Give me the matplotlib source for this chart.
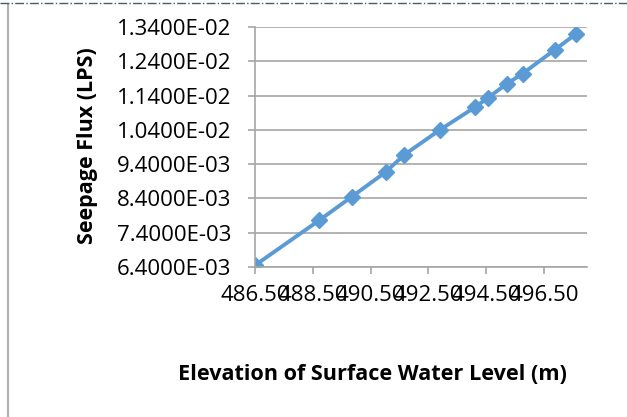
import numpy as np
import matplotlib
matplotlib.use("Agg")
import matplotlib.pyplot as plt
from matplotlib.lines import Line2D

# ── Datos ──────────────────────────────────────────────────────────────────
elevation = [486.50, 488.72, 489.85, 491.02, 491.66, 492.90,
             494.11, 494.55, 495.21, 495.76, 496.88, 497.61]
seepage_flux = [6.45e-3, 7.76e-3, 8.45e-3, 9.17e-3, 9.67e-3, 10.40e-3,
                11.06e-3, 11.33e-3, 11.74e-3, 12.04e-3, 12.74e-3, 13.20e-3]

x_ticks = [486.5, 488.5, 490.5, 492.5, 494.5, 496.5]
y_ticks = [6.4e-3, 7.4e-3, 8.4e-3, 9.4e-3, 10.4e-3, 11.4e-3, 12.4e-3, 13.4e-3]

BLUE = "#5B9BD5"
GRID = "#A6A6A6"

plt.rcParams["font.family"] = ["Open Sans", "DejaVu Sans"]

fig = plt.figure(figsize=(6.27, 4.17), dpi=100)
ax = fig.add_axes([255 / 627, 1 - 267 / 417, (587 - 255) / 627, (267 - 27) / 417])

ax.plot(elevation, seepage_flux, color=BLUE, linewidth=2.8,
        marker="D", markersize=8, markeredgecolor=BLUE, markerfacecolor=BLUE)

ax.set_xlim(486.5, 486.5 + (587 - 255) / 28.9)
ax.set_ylim(6.4e-3, 13.4e-3)
ax.set_xticks(x_ticks)
ax.set_xticklabels([f"{v:.2f}" for v in x_ticks])
ax.set_yticks(y_ticks)
ax.set_yticklabels([f"{v:.4E}" for v in y_ticks])

ax.grid(True, axis="y", color=GRID, linewidth=1.2)
ax.set_axisbelow(True)
for side in ("top", "right"):
    ax.spines[side].set_visible(False)
ax.spines["left"].set_color(GRID)
ax.spines["bottom"].set_color(GRID)
ax.spines["left"].set_linewidth(1.2)
ax.spines["bottom"].set_linewidth(1.2)
ax.tick_params(axis="both", colors=GRID, labelcolor="black", labelsize=16,
               length=5, width=1.2)
ax.tick_params(axis="y", direction="out", pad=12)
ax.tick_params(axis="x", direction="out", pad=8)

fig.text(88 / 627, 1 - 146 / 417, "Seepage Flux (LPS)", rotation=90,
         ha="center", va="center", fontsize=15.5, fontweight="bold")
fig.text(372 / 627, 1 - 375 / 417, "Elevation of Surface Water Level (m)",
         ha="center", va="center", fontsize=15.6, fontweight="bold")

# bordes del recuadro original
fig.add_artist(Line2D([8 / 627, 8 / 627], [0, 1 - 4 / 417], color="#B0B0B0",
                      linewidth=1.5, transform=fig.transFigure))
fig.add_artist(Line2D([0, 1], [1 - 3 / 417, 1 - 3 / 417], color="#4A5A70",
                      linewidth=1, linestyle="-.", transform=fig.transFigure))

fig.savefig("out.png", dpi=100)
plt.close("all")
